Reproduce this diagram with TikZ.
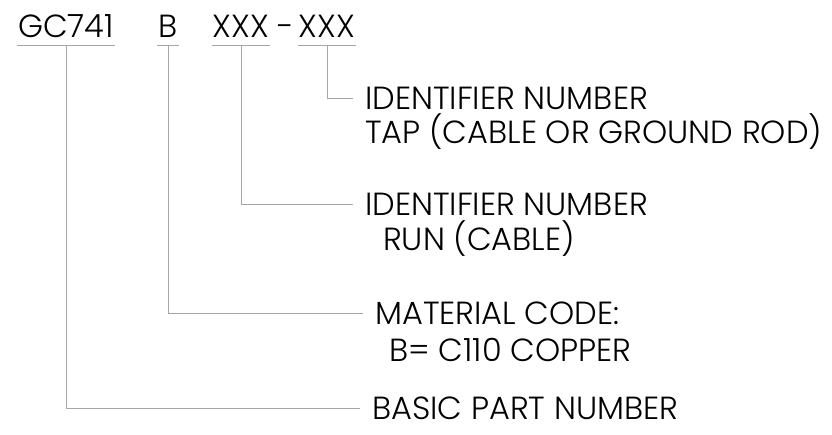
\documentclass[tikz,border=0pt]{standalone}
\usepackage{fontspec}
\setmainfont{Poppins}[UprightFont=* Light]
\begin{document}
\begin{tikzpicture}[x=1pt,y=-1pt,
  lead/.style={draw=gray!70,line width=1pt},
  code/.style={anchor=base,inner xsep=1pt,inner ysep=0pt,font=\fontsize{32}{38}\selectfont},
  note/.style={anchor=base west,inner sep=0pt,font=\fontsize{32}{38}\selectfont}]
\useasboundingbox (0,0) rectangle (832,435);

% part number
\node[code] (gc) at (66,38) {GC741};
\node[code] (mat) at (168,38) {B};
\node[code] (run) at (241,38) {XXX};
\node[code] (dash) at (286,38) {-};
\node[code] (tap) at (327,38) {XXX};

\foreach \n in {gc,mat,run,tap}
{
\draw[lead] ([yshift=-8pt]\n.base west) -- ([yshift=-8pt]\n.base east);
}

% descriptions
\node[note] (tapa) at (365,110) {IDENTIFIER NUMBER};
\node[note] (tapb) at (365,144) {TAP (CABLE OR GROUND ROD)};
\node[note] (runa) at (365,216) {IDENTIFIER NUMBER};
\node[note] (runb) at (383,251) {RUN (CABLE)};
\node[note] (mata) at (375,325) {MATERIAL CODE:};
\node[note] (matb) at (389,361) {B= C110 COPPER};
\node[note] (gca) at (372,419) {BASIC PART NUMBER};

\foreach \n in {gc,mat,run,tap}
{
\draw[lead] ([yshift=-8pt]\n.base) |- ([xshift=-12pt,yshift=11pt]\n a.base west);
}
\end{tikzpicture}
\end{document}
